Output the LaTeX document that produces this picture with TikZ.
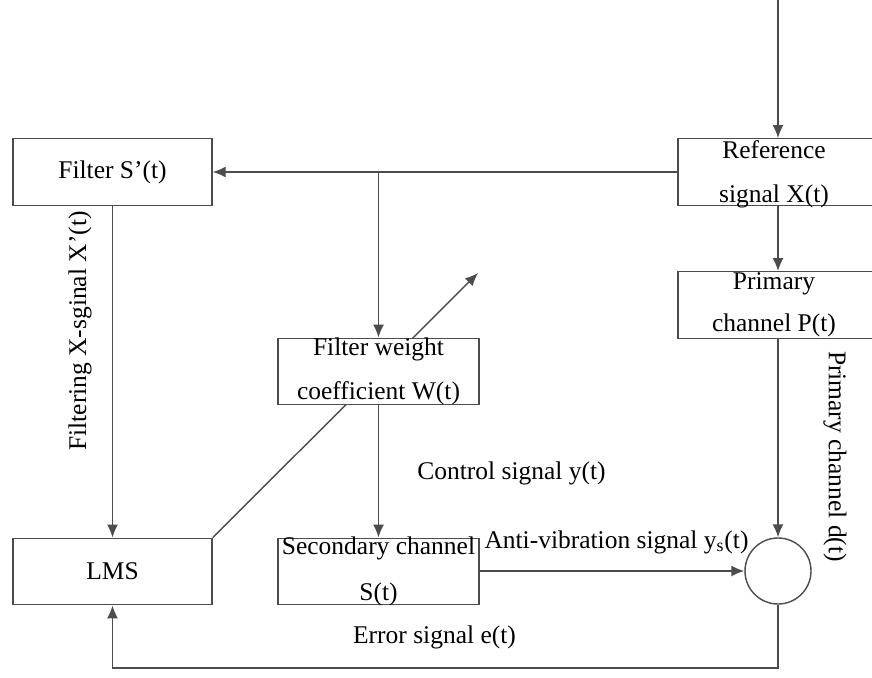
\documentclass[tikz,border=0pt]{standalone}
\usepackage{fontspec}
\setmainfont{Liberation Serif}
\usepackage{tikz}
\usetikzlibrary{arrows.meta,calc}

\begin{document}
\begin{tikzpicture}[
  line width=0.8pt,
  font=\fontsize{14.5}{17}\selectfont,
  block/.style={draw=black!70, fill=white, rectangle, minimum width=4cm, minimum height=1.33cm},
  sumnode/.style={draw=black!70, circle, minimum size=1.32cm, inner sep=0pt},
  sig/.style={draw=black!70, -{Latex[length=2.6mm,width=2.2mm]}}
]
\useasboundingbox (0,0) rectangle (17.44,-13.54);

% blocks
\node[block] (ref) at (15.56,-3.44) {};
\node[block, minimum width=3.98cm] (filt) at (2.25,-3.44) {};
\node[block] (prim) at (15.56,-6.10) {};
\node[block, minimum width=4.02cm] (sec) at (7.57,-11.43) {};
\node[block, minimum width=3.98cm] (lms) at (2.25,-11.43) {};
\node[sumnode] (sum) at (15.56,-11.42) {};

% adaptation arrow runs behind the weight block
\coordinate (adapt) at (9.56,-5.46);
\draw[sig] (lms.north east) -- (adapt);
\node[block, minimum width=4.02cm] (wgt) at (7.57,-7.43) {};

% block texts
\node at (15.48,-3.00) {Reference};
\node at (15.48,-3.93) {signal X(t)};
\node at (2.25,-3.44) {Filter S’(t)};
\node at (15.48,-5.68) {Primary};
\node at (15.48,-6.50) {channel P(t)};
\node at (7.57,-6.98) {Filter weight};
\node at (7.57,-7.86) {coefficient W(t)};
\node at (7.57,-10.96) {Secondary channel};
\node at (7.57,-11.88) {S(t)};
\node at (2.25,-11.43) {LMS};

% connections
\coordinate (in) at (15.56,0);
\coordinate (fb) at (15.56,-13.36);
\draw[sig] (in) -- (ref.north);
\draw[sig] (ref.west) -- (filt.east);
\draw[sig] (wgt.north |- filt.east) -- (wgt.north);
\draw[sig] (ref.south) -- (prim.north);
\draw[sig] (filt.south) -- (lms.north);
\draw[sig] (wgt.south) -- (sec.north);
\draw[sig] (prim.south) -- (sum.north);
\draw[sig] (sec.east |- sum.west) -- (sum.west);
\draw[sig] (sum.south) -- (fb) -| (lms.south);

% signal labels
\node[rotate=90] at (1.60,-6.62) {Filtering X-sginal X’(t)};
\node at (10.23,-9.46) {Control signal y(t)};
\node at (12.33,-10.84) {Anti-vibration signal y\textsubscript{s}(t)};
\node at (8.69,-12.74) {Error signal e(t)};
\node[rotate=-90] at (16.70,-9.13) {Primary channel d(t)};
\end{tikzpicture}
\end{document}
